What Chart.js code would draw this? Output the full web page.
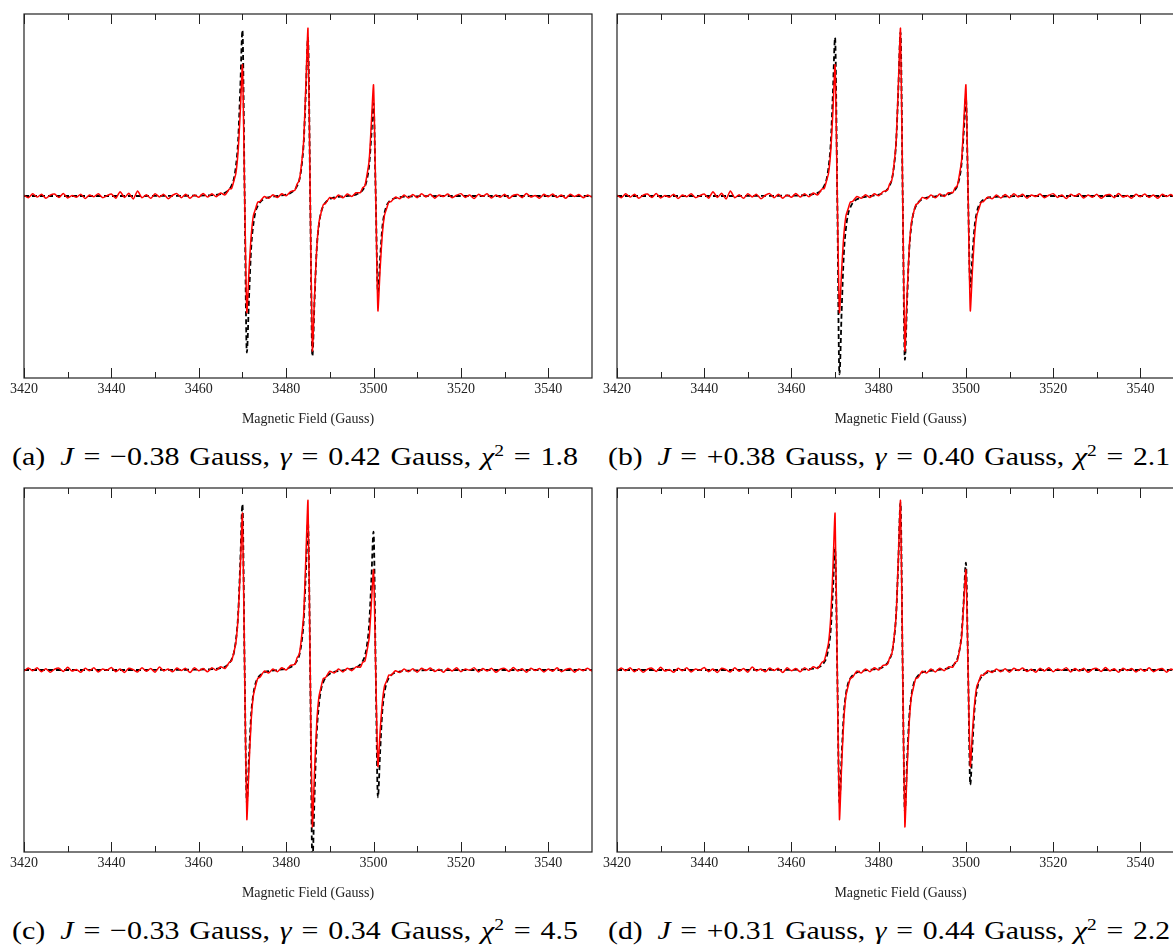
<!DOCTYPE html>
<html><head><meta charset="utf-8">
<script src="https://cdn.jsdelivr.net/npm/chart.js@4.4.0/dist/chart.umd.min.js"></script>
<style>
html,body{margin:0;padding:0;background:#fff;width:1173px;height:945px;overflow:hidden;position:relative}
.pane{position:absolute;width:600px;height:440px}
.cap{position:absolute;font-family:"Liberation Serif","Times New Roman",serif;font-size:26px;line-height:30px;color:#000;white-space:nowrap;transform-origin:0 0;word-spacing:2px}
.cap i{font-style:italic}
.cap sup{font-size:17px;line-height:0;position:relative;top:1px}
</style></head><body>
<div class="pane" style="left:0;top:0"><canvas id="ca" width="600" height="440"></canvas></div>
<div class="pane" style="left:600px;top:0"><canvas id="cb" width="600" height="440"></canvas></div>
<div class="pane" style="left:0;top:474px"><canvas id="cc" width="600" height="440"></canvas></div>
<div class="pane" style="left:600px;top:474px"><canvas id="cd" width="600" height="440"></canvas></div>
<div class="cap" data-l="12" data-w="566" style="top:442px">(a)&ensp;<i>J</i> = −0.38 Gauss, <i>γ</i> = 0.42 Gauss, <i>χ</i><sup>2</sup> = 1.8</div>
<div class="cap" data-l="608" data-w="562" style="top:442px">(b)&ensp;<i>J</i> = +0.38 Gauss, <i>γ</i> = 0.40 Gauss, <i>χ</i><sup>2</sup> = 2.1</div>
<div class="cap" data-l="12" data-w="566" style="top:916px">(c)&ensp;<i>J</i> = −0.33 Gauss, <i>γ</i> = 0.34 Gauss, <i>χ</i><sup>2</sup> = 4.5</div>
<div class="cap" data-l="608" data-w="562" style="top:916px">(d)&ensp;<i>J</i> = +0.31 Gauss, <i>γ</i> = 0.44 Gauss, <i>χ</i><sup>2</sup> = 2.2</div>
<script>
// ---- data ----
const axisTitle = "Magnetic Field (Gauss)";
const majorTicks = [3420,3440,3460,3480,3500,3520,3540];
const minorTicks = [3430,3450,3470,3490,3510,3530];

const fieldExp = [
3420,3421,3422,3423,3424,3425,3426,3427,3428,3429,3430,3431,3432,3433,3434,3435,3436,3437,3438,3439,
3440,3441,3442,3443,3444,3445,3446,3447,3448,3449,3450,3451,3452,3453,3454,3455,3456,3457,3458,3459,
3460,3461,3462,3463,3464,3465,3466,
3467,3467.5,3468,3468.5,3469,3469.5,3470,3470.5,3471,3471.5,3472,3472.5,3473,3473.5,3474,
3475,3476,3477,3478,3479,3480,3481,
3482,3482.5,3483,3483.5,3484,3484.5,3485,3485.5,3486,3486.5,3487,3487.5,3488,3488.5,3489,
3490,3491,3492,3493,3494,3495,3496,
3497,3497.5,3498,3498.5,3499,3499.5,3500,3500.5,3501,3501.5,3502,3502.5,3503,3503.5,3504,
3505,3506,3507,3508,3509,3510,3511,3512,3513,3514,3515,3516,3517,3518,3519,3520,3521,3522,3523,3524,
3525,3526,3527,3528,3529,3530,3531,3532,3533,3534,3535,3536,3537,3538,3539,3540,3541,3542,3543,3544,
3545,3546,3547,3548,3549,3550];

// experimental spectrum shown in (a) and (b)
const expTop = [
0.004,-0.010,0.012,-0.006,0.009,-0.013,0.005,0.011,-0.008,0.014,-0.011,0.003,-0.007,0.010,-0.014,0.006,-0.004,0.013,-0.009,0.002,
0.011,-0.012,0.024,-0.008,0.015,-0.016,0.027,-0.010,0.007,-0.013,0.012,-0.005,0.009,-0.015,0.004,0.013,-0.009,0.010,-0.012,0.006,
-0.007,0.014,-0.006,0.012,-0.004,0.016,0.006,
0.038,0.041,0.080,0.125,0.245,0.462,0.72,0.005,-0.64,-0.41,-0.218,-0.108,-0.070,-0.034,-0.030,
-0.003,-0.013,0.007,-0.008,0.012,0.001,0.024,
0.032,0.066,0.086,0.172,0.298,0.604,0.92,-0.004,-0.85,-0.548,-0.287,-0.146,-0.092,-0.048,-0.041,
-0.008,-0.016,0.006,-0.010,0.011,-0.003,0.018,
0.019,0.045,0.055,0.116,0.195,0.402,0.61,0.004,-0.63,-0.405,-0.215,-0.107,-0.069,-0.034,-0.031,
-0.006,-0.015,0.005,-0.011,0.008,-0.009,0.012,-0.005,0.009,-0.012,0.006,-0.003,0.011,-0.010,0.004,0.013,-0.008,0.006,-0.014,0.009,
-0.002,0.012,-0.011,0.005,-0.007,0.010,-0.013,0.004,0.008,-0.009,0.014,-0.006,0.003,-0.012,0.009,-0.004,0.011,-0.008,0.006,-0.013,
0.010,-0.003,0.008,-0.010,0.005,-0.006];

// experimental spectrum shown in (c) and (d)
const expBottom = [
-0.006,0.011,-0.004,0.013,-0.010,0.007,-0.012,0.004,0.010,-0.008,0.015,-0.006,0.003,-0.013,0.009,-0.004,0.012,-0.011,0.006,-0.002,
0.014,-0.009,0.005,-0.014,0.010,0.002,-0.011,0.013,-0.007,0.008,-0.012,0.016,-0.005,0.006,-0.010,0.011,-0.003,0.009,-0.014,0.012,
-0.004,0.008,-0.010,0.013,-0.002,0.018,0.008,
0.043,0.050,0.094,0.150,0.290,0.553,0.86,-0.004,-0.82,-0.528,-0.276,-0.141,-0.088,-0.046,-0.040,
-0.006,-0.016,0.006,-0.009,0.012,0.000,0.025,
0.031,0.067,0.087,0.174,0.300,0.611,0.93,0.005,-0.86,-0.553,-0.290,-0.148,-0.093,-0.047,-0.042,
-0.007,-0.017,0.005,-0.011,0.010,-0.004,0.017,
0.016,0.042,0.048,0.105,0.176,0.364,0.55,-0.005,-0.53,-0.339,-0.182,-0.089,-0.060,-0.027,-0.030,
-0.004,-0.014,0.006,-0.010,0.007,-0.012,0.009,-0.003,0.011,-0.008,0.004,-0.013,0.010,-0.005,0.012,-0.009,0.006,-0.002,0.013,-0.011,
0.008,-0.006,0.010,-0.013,0.004,0.009,-0.008,0.014,-0.005,0.007,-0.012,0.010,-0.003,0.008,-0.011,0.005,-0.007,0.012,-0.009,0.003,
0.008,-0.012,0.006,-0.004,0.010,-0.007];

const fieldFit = [
3420,3440,3460,3463,3465,3466,
3467,3467.5,3468,3468.5,3469,3469.5,3470,3470.5,3471,3471.5,3472,3472.5,3473,3473.5,3474,
3475,3476,3478,3480,3481,
3482,3482.5,3483,3483.5,3484,3484.5,3485,3485.5,3486,3486.5,3487,3487.5,3488,3488.5,3489,
3490,3491,3493,3495,3496,
3497,3497.5,3498,3498.5,3499,3499.5,3500,3500.5,3501,3501.5,3502,3502.5,3503,3503.5,3504,
3505,3506,3508,3511,3515,3520,3535,3550];

const fitA = [0,0,0.002,0.005,0.01,0.018,
0.037,0.057,0.091,0.164,0.300,0.592,0.91,0,-0.86,-0.559,-0.284,-0.155,-0.086,-0.054,-0.035,
-0.015,-0.007,0,0.008,0.016,
0.036,0.055,0.087,0.157,0.287,0.566,0.87,0,-0.88,-0.572,-0.290,-0.158,-0.088,-0.055,-0.036,
-0.017,-0.008,-0.002,0.003,0.008,
0.021,0.032,0.051,0.092,0.168,0.332,0.51,0,-0.53,-0.345,-0.175,-0.095,-0.053,-0.033,-0.022,
-0.011,-0.006,-0.003,-0.001,0,0,0,0];

const fitB = [0,0,0.002,0.004,0.01,0.017,
0.036,0.055,0.087,0.157,0.287,0.566,0.87,0,-0.98,-0.637,-0.323,-0.176,-0.098,-0.062,-0.040,
-0.018,-0.009,0,0.007,0.016,
0.037,0.057,0.090,0.162,0.297,0.585,0.90,0,-0.90,-0.585,-0.297,-0.162,-0.090,-0.057,-0.037,
-0.017,-0.009,-0.002,0.004,0.009,
0.022,0.034,0.054,0.097,0.178,0.351,0.54,0,-0.50,-0.325,-0.165,-0.09,-0.05,-0.032,-0.021,
-0.010,-0.006,-0.003,-0.001,0,0,0,0];

const fitC = [0,0,0.002,0.005,0.01,0.018,
0.037,0.057,0.091,0.164,0.300,0.592,0.91,0,-0.73,-0.475,-0.241,-0.131,-0.073,-0.046,-0.030,
-0.013,-0.006,0,0.007,0.015,
0.033,0.051,0.081,0.146,0.267,0.527,0.81,0,-1.06,-0.689,-0.350,-0.191,-0.106,-0.067,-0.043,
-0.020,-0.010,-0.002,0.006,0.013,
0.031,0.048,0.076,0.137,0.251,0.494,0.76,0,-0.70,-0.455,-0.231,-0.126,-0.07,-0.044,-0.029,
-0.014,-0.008,-0.0035,-0.0014,-0.001,0,0,0];

const fitD = [0,0,0.001,0.003,0.007,0.013,
0.027,0.042,0.067,0.121,0.221,0.436,0.67,0,-0.73,-0.475,-0.241,-0.131,-0.073,-0.046,-0.030,
-0.013,-0.006,0.001,0.008,0.017,
0.038,0.058,0.092,0.166,0.304,0.598,0.92,0,-0.78,-0.507,-0.257,-0.140,-0.078,-0.049,-0.032,
-0.014,-0.007,-0.001,0.005,0.010,
0.024,0.037,0.059,0.106,0.195,0.384,0.59,0,-0.63,-0.410,-0.208,-0.113,-0.063,-0.040,-0.026,
-0.013,-0.007,-0.003,-0.001,0,0,0,0];

// ---- captions: stretch to the reference width ----
document.querySelectorAll('.cap').forEach(el => {
  const w = el.getBoundingClientRect().width;
  const target = +el.dataset.w;
  el.style.left = el.dataset.l + 'px';
  el.style.transform = 'scaleX(' + (target / w) + ')';
});

// ---- drawing ----
const toXY = (xs, ys) => xs.map((x, i) => ({x: x, y: ys[i]}));

const framePlugin = {
  id: 'frame',
  afterDatasetsDraw(chart) {
    const ctx = chart.ctx;
    const {left, right, top, bottom} = chart.chartArea;
    const xs = chart.scales.x;
    ctx.save();
    ctx.strokeStyle = '#222';
    ctx.lineWidth = 1.2;
    ctx.strokeRect(left, top, right - left, bottom - top);
    ctx.lineWidth = 1;
    const tick = (v, len) => {
      const p = Math.round(xs.getPixelForValue(v)) + 0.5;
      ctx.beginPath();
      ctx.moveTo(p, bottom); ctx.lineTo(p, bottom - len);
      ctx.moveTo(p, top); ctx.lineTo(p, top + len);
      ctx.stroke();
    };
    majorTicks.forEach(v => tick(v, 10));
    minorTicks.forEach(v => tick(v, 6));
    ctx.restore();
  }
};

function makeChart(id, exp, fit, pad) {
  new Chart(document.getElementById(id), {
    type: 'line',
    data: {
      datasets: [
        {data: toXY(fieldExp, exp), borderColor: '#ff0000', borderWidth: 1.5, pointRadius: 0, tension: 0.2, clip: 0},
        {data: toXY(fieldFit, fit), borderColor: '#000000', borderWidth: 1.8, borderDash: [5, 3], pointRadius: 0, cubicInterpolationMode: 'monotone', clip: 0}
      ]
    },
    options: {
      responsive: false,
      animation: false,
      parsing: false,
      normalized: true,
      layout: {padding: pad},
      plugins: {legend: {display: false}, tooltip: {enabled: false}},
      scales: {
        x: {
          type: 'linear', min: 3420, max: 3550,
          grid: {display: false, drawTicks: false},
          border: {display: false},
          afterBuildTicks: s => { s.ticks = majorTicks.map(v => ({value: v})); },
          afterFit: s => { s.height = 62; },
          ticks: {autoSkip: false, maxRotation: 0, padding: 3, color: '#222',
                  font: {family: '"Liberation Serif", serif', size: 14},
                  callback: v => String(v)},
          title: {display: true, text: axisTitle, color: '#222', padding: {top: 0, bottom: 12},
                  font: {family: '"Liberation Serif", serif', size: 14}}
        },
        y: {type: 'linear', min: -1, max: 1, display: false}
      }
    },
    plugins: [framePlugin]
  });
}

makeChart('ca', expTop, fitA, {left: 24, right: 8, top: 14, bottom: 0});
makeChart('cb', expTop, fitB, {left: 16, right: 16, top: 14, bottom: 0});
makeChart('cc', expBottom, fitC, {left: 24, right: 8, top: 14, bottom: 0});
makeChart('cd', expBottom, fitD, {left: 16, right: 16, top: 14, bottom: 0});
</script>
</body></html>
